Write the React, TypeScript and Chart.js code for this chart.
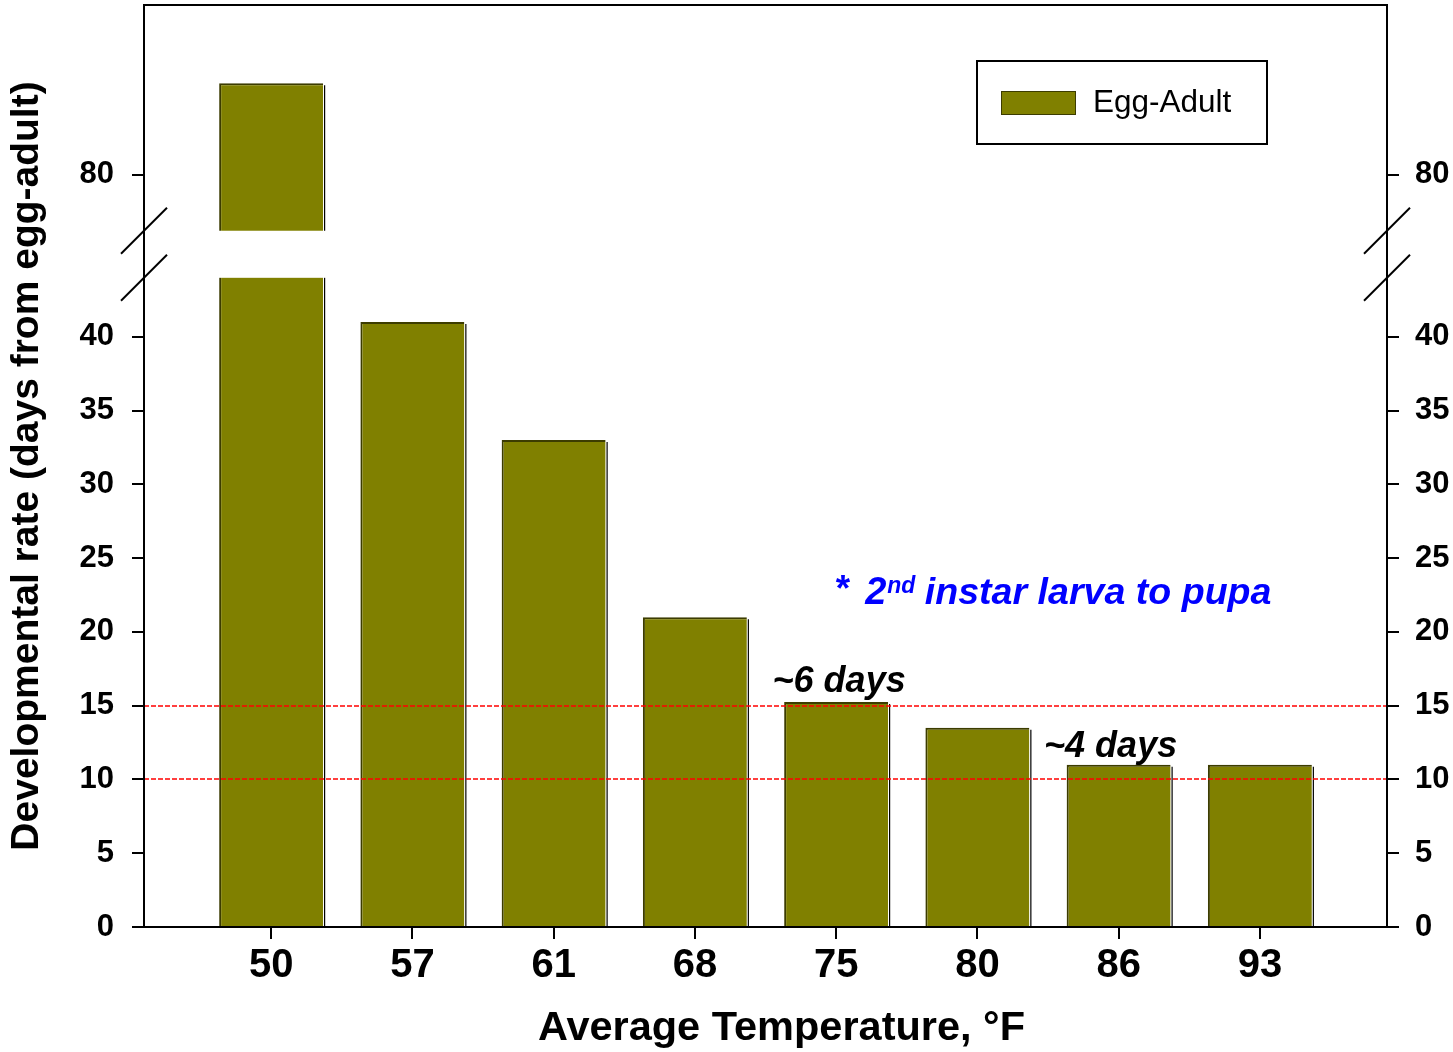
import React, { useEffect, useRef } from 'react';
import { Chart, registerables } from 'chart.js';

Chart.register(...registerables);

// ---- data ----
const CATEGORIES = ['50', '57', '61', '68', '75', '80', '86', '93'];
const EGG_ADULT = [86.2, 41, 33, 21, 15.25, 13.5, 11, 11];
const LOWER_TICKS = [0, 5, 10, 15, 20, 25, 30, 35, 40];
const UPPER_TICKS = [80];
const REF_LINES = [15, 10];
const SERIES_LABEL = 'Egg-Adult';
const X_TITLE = 'Average Temperature, °F';
const Y_TITLE = 'Developmental rate (days from egg-adult)';
const NOTE_SIX = '~6 days';
const NOTE_FOUR = '~4 days';
const NOTE_BLUE = ['*', '2', 'nd', ' instar larva to pupa'];

// ---- broken axis mapping ----
const BREAK_LOW = 44;
const BREAK_HIGH = 76.2;
const GAP = 3.19;
const AXIS_TOP = 91.5;
const toAxis = (v: number) => (v <= BREAK_LOW ? v : v - BREAK_HIGH + BREAK_LOW + GAP);
const fromAxis = (a: number) => (a <= BREAK_LOW ? a : a + BREAK_HIGH - BREAK_LOW - GAP);

const FAMILY = '"Liberation Sans", Arial, Helvetica, sans-serif';
const OLIVE = '#808000';
const OLIVE_DARK = '#3c3c00';

function makeY(position: 'left' | 'right') {
  return {
    type: 'linear' as const,
    position,
    min: 0,
    max: toAxis(AXIS_TOP),
    afterBuildTicks: (s: any) => {
      s.ticks = [...LOWER_TICKS, ...UPPER_TICKS].map((v) => ({ value: toAxis(v) }));
    },
    afterFit: (s: any) => {
      s.width = position === 'left' ? 144 : 66;
      s.paddingTop = 0;
      s.paddingBottom = 0;
    },
    ticks: {
      callback: (v: any) => String(Math.round(fromAxis(Number(v)))),
      font: { family: FAMILY, size: 31, weight: 'bold' as const },
      color: '#000',
      padding: position === 'left' ? 18 : 16,
      autoSkip: false,
    },
    grid: {
      drawOnChartArea: false,
      drawTicks: true,
      tickLength: 12,
      tickWidth: 2,
      color: '#000',
      lineWidth: 2,
    },
    border: { display: true, color: '#000', width: 2, z: 1 },
    title:
      position === 'left'
        ? {
            display: true,
            text: Y_TITLE,
            color: '#000',
            font: { family: FAMILY, size: 39, weight: 'bold' as const },
            padding: { top: 4, bottom: 0 },
          }
        : { display: false },
  };
}

const decorPlugin = {
  id: 'decor',
  afterDatasetsDraw(chart: any) {
    const ctx: CanvasRenderingContext2D = chart.ctx;
    const { left, right, top, bottom } = chart.chartArea;
    const xs = chart.scales.x;
    const ys = chart.scales.y;
    ctx.save();

    // bar right-edge shadow
    const meta = chart.getDatasetMeta(0);
    ctx.strokeStyle = '#000';
    ctx.lineWidth = 1.2;
    meta.data.forEach((el: any) => {
      const p = el.getProps(['x', 'y', 'base', 'width'], true);
      const sx = p.x + p.width / 2 + 1.5;
      ctx.beginPath();
      ctx.moveTo(sx, p.y + 2);
      ctx.lineTo(sx, p.base);
      ctx.stroke();
    });

    // reference dashed lines
    ctx.strokeStyle = '#ff0000';
    ctx.lineWidth = 1.5;
    ctx.setLineDash([5, 2]);
    REF_LINES.forEach((v) => {
      const py = Math.round(ys.getPixelForValue(toAxis(v)));
      ctx.beginPath();
      ctx.moveTo(left, py);
      ctx.lineTo(right, py);
      ctx.stroke();
    });
    ctx.setLineDash([]);

    // axis break
    const yLow = ys.getPixelForValue(BREAK_LOW);
    const yHigh = ys.getPixelForValue(BREAK_LOW + GAP);
    ctx.fillStyle = '#fff';
    ctx.fillRect(left - 4, yHigh, right - left + 8, yLow - yHigh);
    ctx.strokeStyle = '#000';
    ctx.lineWidth = 2;
    [left, right].forEach((ax) => {
      [yHigh, yLow].forEach((yy) => {
        ctx.beginPath();
        ctx.moveTo(ax - 23, yy + 23);
        ctx.lineTo(ax + 23, yy - 23);
        ctx.stroke();
      });
    });

    // top frame
    ctx.beginPath();
    ctx.moveTo(left - 1, top);
    ctx.lineTo(right + 1, top);
    ctx.stroke();

    // legend
    const bw = 290;
    const bh = 83;
    const bx = right - 120 - bw;
    const by = top + 56;
    ctx.lineWidth = 2;
    ctx.strokeStyle = '#000';
    ctx.strokeRect(bx, by, bw, bh);
    ctx.fillStyle = OLIVE;
    ctx.fillRect(bx + 24, by + 30, 75, 24);
    ctx.lineWidth = 1;
    ctx.strokeStyle = OLIVE_DARK;
    ctx.strokeRect(bx + 24.5, by + 30.5, 74, 23);
    ctx.fillStyle = '#000';
    ctx.font = `31.5px ${FAMILY}`;
    ctx.textAlign = 'left';
    ctx.textBaseline = 'middle';
    ctx.fillText(chart.data.datasets[0].label, bx + 116, by + 42);

    // annotations
    ctx.textBaseline = 'alphabetic';
    ctx.textAlign = 'center';
    ctx.font = `italic bold 36px ${FAMILY}`;
    ctx.fillText(NOTE_SIX, xs.getPixelForValue(4) + 3, ys.getPixelForValue(toAxis(EGG_ADULT[4])) - 10);
    ctx.fillText(NOTE_FOUR, xs.getPixelForValue(6) - 8, ys.getPixelForValue(toAxis(EGG_ADULT[6])) - 8);

    // blue note
    ctx.textAlign = 'left';
    ctx.fillStyle = '#0000ff';
    const bx0 = xs.getPixelForValue(4) - 2;
    const bBase = ys.getPixelForValue(21.9);
    ctx.font = `italic bold 37px ${FAMILY}`;
    ctx.fillText(NOTE_BLUE[0], bx0, bBase - 3);
    let cx = bx0 + 31;
    ctx.font = `italic bold 38px ${FAMILY}`;
    ctx.fillText(NOTE_BLUE[1], cx, bBase);
    cx += ctx.measureText(NOTE_BLUE[1]).width + 1;
    ctx.font = `italic bold 23px ${FAMILY}`;
    ctx.fillText(NOTE_BLUE[2], cx, bBase - 11);
    cx += ctx.measureText(NOTE_BLUE[2]).width - 1;
    ctx.font = `italic bold 37.6px ${FAMILY}`;
    ctx.fillText(NOTE_BLUE[3], cx, bBase);

    // x title
    ctx.fillStyle = '#000';
    ctx.textAlign = 'center';
    ctx.font = `bold 41.5px ${FAMILY}`;
    ctx.fillText(X_TITLE, (left + right) / 2 + 16, bottom + 113);

    ctx.restore();
  },
};

export default function App() {
  const ref = useRef<HTMLCanvasElement | null>(null);

  useEffect(() => {
    document.body.style.margin = '0';
    if (!ref.current) return;
    const chart = new Chart(ref.current, {
      type: 'bar',
      data: {
        datasets: [
          {
            label: SERIES_LABEL,
            data: EGG_ADULT.map((v, i) => ({ x: i, y: toAxis(v) })),
            backgroundColor: OLIVE,
            borderColor: OLIVE_DARK,
            borderWidth: { top: 2, left: 2, right: 0, bottom: 0 },
            borderSkipped: false,
            barPercentage: 0.736,
            categoryPercentage: 1,
          },
        ],
      },
      options: {
        animation: false,
        responsive: false,
        devicePixelRatio: 1,
        layout: { padding: { top: 5, left: 0, right: 0, bottom: 0 } },
        plugins: {
          legend: { display: false },
          tooltip: { enabled: false },
        },
        scales: {
          x: {
            type: 'linear',
            min: -0.9,
            max: 7.9,
            offset: false,
            afterBuildTicks: (s: any) => {
              s.ticks = CATEGORIES.map((_, i) => ({ value: i }));
            },
            afterFit: (s: any) => {
              s.height = 125;
              s.paddingLeft = 0;
              s.paddingRight = 0;
            },
            ticks: {
              callback: (v: any) => CATEGORIES[Number(v)] ?? '',
              font: { family: FAMILY, size: 40, weight: 'bold' },
              color: '#000',
              padding: 3,
              maxRotation: 0,
              autoSkip: false,
            },
            grid: {
              offset: false,
              drawOnChartArea: false,
              tickLength: 12,
              tickWidth: 2,
              color: '#000',
              lineWidth: 2,
            },
            border: { display: true, color: '#000', width: 2, z: 1 },
          },
          y: makeY('left'),
          y2: makeY('right'),
        },
      } as any,
      plugins: [decorPlugin],
    });
    return () => chart.destroy();
  }, []);

  return (
    <div style={{ width: 1453, height: 1052 }}>
      <canvas ref={ref} width={1453} height={1052} style={{ display: 'block' }} />
    </div>
  );
}
